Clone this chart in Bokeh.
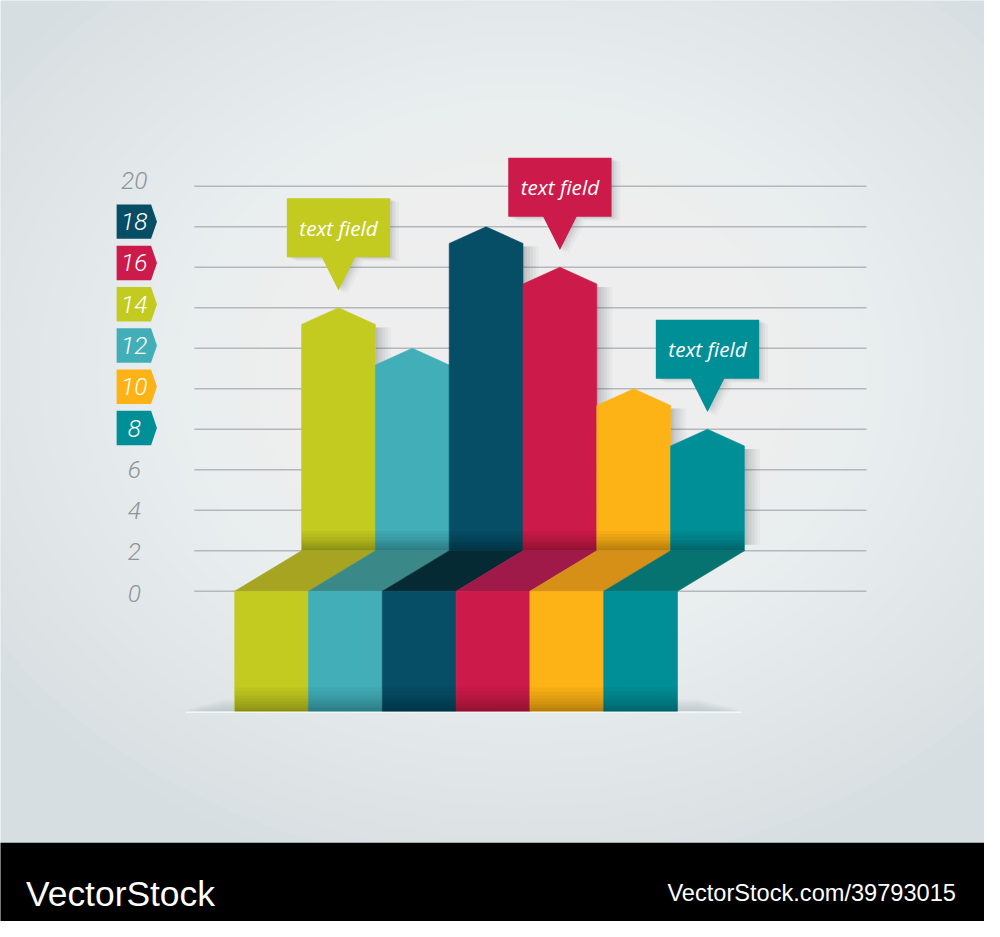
from bokeh.plotting import figure
from bokeh.models import Range1d, ColumnDataSource
from bokeh.embed import file_html
from bokeh.resources import INLINE
from bokeh.core.properties import value

# ---------------- data ----------------
categories = ["A", "B", "C", "D", "E", "F"]
values = [14, 12, 18, 16, 10, 8]
bar_colors = ["#c3cb21", "#42aeb8", "#064d66", "#cc1a4a", "#fdb315", "#008e97"]
fold_colors = ["#a6a421", "#3a8988", "#062a34", "#9f1a48", "#d68f17", "#067370"]
tick_values = [0, 2, 4, 6, 8, 10, 12, 14, 16, 18, 20]
tag_values = [18, 16, 14, 12, 10, 8]
tag_colors = ["#064d66", "#cc1a4a", "#c3cb21", "#42aeb8", "#fdb315", "#008e97"]
callout_bars = [0, 3, 5]
callout_texts = ["text field", "text field", "text field"]
brand_text = "VectorStock"
brand_url = "VectorStock.com/39793015"

# ---------------- layout constants ----------------
W, H = 984, 921
S = W / 1000.0       # screen scale of the figure relative to the reference
PX = 20.6            # reference pixels per value unit
ZERO = 601           # reference pixel row of value 0
BACK_X0 = 306        # left edge of first back bar (ref px)
BAR_W = 75
FRONT_DX = -68
BACK_BASE = 2.0
FRONT_BOTTOM = (ZERO - 723) / PX
PEAK_DROP = 17 / PX
TIP_GAP = 17.5 / PX


def u(px):
    return px / PX


def yv(pixel_row):
    return (ZERO - pixel_row) / PX


def fs(px):
    return f"{px * S:.1f}px"


p = figure(width=W, height=H, output_backend="svg", toolbar_location=None,
           x_range=Range1d(0, 1000), y_range=Range1d(yv(937), yv(0)),
           x_axis_location=None, y_axis_location=None, min_border=0)
p.grid.visible = False
p.outline_line_color = None
p.background_fill_color = "#d6dee1"
p.border_fill_color = "#d6dee1"

# ---------------- background glow ----------------
n_glow = 30
gw = [(1300 - k * 40) * S for k in range(n_glow)]
gh = [w * 0.80 for w in gw]
p.ellipse(x=[530] * n_glow, y=[yv(380)] * n_glow, width=gw, height=gh,
          width_units="screen", height_units="screen",
          fill_color="white", fill_alpha=0.055, line_color=None)

# ---------------- gridlines ----------------
p.segment(x0=[197] * len(tick_values), y0=tick_values,
          x1=[880] * len(tick_values), y1=tick_values,
          line_color="#b4b8bb", line_width=1.5)

# ---------------- floor shadow ----------------
n = len(values)
front_left = BACK_X0 + FRONT_DX
front_right = front_left + n * BAR_W
for k, hpx in enumerate([12, 10, 8, 6, 4, 2]):
    xs = [front_left - 55 + k * 5, front_right + 68 - k * 5,
          front_right + 20, front_left - 10]
    ys = [FRONT_BOTTOM, FRONT_BOTTOM, FRONT_BOTTOM + u(hpx), FRONT_BOTTOM + u(hpx)]
    p.patch(xs, ys, fill_color="#7d868d", fill_alpha=0.05, line_color=None)
p.segment(x0=[front_left - 50], y0=[FRONT_BOTTOM - u(1)], x1=[front_right + 65],
          y1=[FRONT_BOTTOM - u(1)], line_color="#f4f6f7", line_width=1.5)


def bar_shape(i, v):
    x0 = BACK_X0 + i * BAR_W
    x1 = x0 + BAR_W
    xm = (x0 + x1) / 2
    return ([x0, x0, xm, x1, x1], [BACK_BASE, v - PEAK_DROP, v, v - PEAK_DROP, BACK_BASE])


# ---------------- back bar shadows (to the right of each bar) ----------------
for wpx, a in [(16, 0.04), (13, 0.04), (10, 0.05), (7, 0.06), (4, 0.07), (2, 0.06)]:
    p.quad(left=[BACK_X0 + (i + 1) * BAR_W for i in range(n)],
           right=[BACK_X0 + (i + 1) * BAR_W + wpx for i in range(n)],
           top=[v - PEAK_DROP - u(3) for v in values],
           bottom=[BACK_BASE + u(6)] * n,
           fill_color="#3c4348", fill_alpha=a, line_color=None)

# ---------------- back bars ----------------
bx, by = [], []
for i, v in enumerate(values):
    xs, ys = bar_shape(i, v)
    bx.append(xs)
    by.append(ys)
p.patches(bx, by, fill_color=bar_colors, line_color=bar_colors, line_width=0.6)

# darker band at the foot of the back bars
for hpx in [20, 17, 14, 11, 9, 7, 5, 3, 1.5]:
    p.quad(left=BACK_X0, right=BACK_X0 + n * BAR_W, bottom=BACK_BASE,
           top=BACK_BASE + u(hpx), fill_color="black", fill_alpha=0.035, line_color=None)

# ---------------- folds ----------------
fx, fy = [], []
for i in range(n):
    f0 = front_left + i * BAR_W
    b0 = BACK_X0 + i * BAR_W
    fx.append([f0, f0 + BAR_W, b0 + BAR_W, b0])
    fy.append([0, 0, BACK_BASE, BACK_BASE])
p.patches(fx, fy, fill_color=fold_colors, line_color=fold_colors, line_width=0.6)

# ---------------- front bars ----------------
src = ColumnDataSource(dict(
    left=[front_left + i * BAR_W for i in range(n)],
    right=[front_left + (i + 1) * BAR_W for i in range(n)],
    color=bar_colors))
p.quad(left="left", right="right", top=0, bottom=FRONT_BOTTOM, source=src,
       fill_color="color", line_color="color", line_width=0.6)
for hpx in [24, 20, 16, 13, 10, 7, 5, 3, 1.5]:
    p.quad(left=front_left, right=front_right, bottom=FRONT_BOTTOM,
           top=FRONT_BOTTOM + u(hpx), fill_color="black", fill_alpha=0.035, line_color=None)

# ---------------- callouts ----------------
CW, CH, PH, PW = 105, 60, 34, 17


def callout_shape(b, dx=0.0, dy=0.0):
    cx = BACK_X0 + b * BAR_W + BAR_W / 2 + dx
    tip = values[b] + TIP_GAP - u(dy)
    bot = tip + u(PH)
    top = bot + u(CH)
    xs = [cx - CW / 2, cx + CW / 2, cx + CW / 2, cx + PW, cx, cx - PW, cx - CW / 2]
    ys = [top, top, bot, bot, tip, bot, bot]
    return xs, ys, cx, (top + bot) / 2


for dx, dy, a in [(2, 1, 0.07), (4, 2, 0.06), (6, 3, 0.05), (9, 4, 0.04)]:
    sx, sy = [], []
    for b in callout_bars:
        xs, ys, _, _ = callout_shape(b, dx, dy)
        sx.append(xs)
        sy.append(ys)
    p.patches(sx, sy, fill_color="#3c4348", fill_alpha=a, line_color=None)

cxs, cys, tx, ty, ccol = [], [], [], [], []
for b in callout_bars:
    xs, ys, cx, cy = callout_shape(b)
    cxs.append(xs)
    cys.append(ys)
    tx.append(cx)
    ty.append(cy)
    ccol.append(bar_colors[b])
p.patches(cxs, cys, fill_color=ccol, line_color=None)
p.text(x=tx, y=ty, text=callout_texts, text_align="center", text_baseline="middle",
       text_color="white", text_font=value("Open Sans"), text_font_style="italic",
       text_font_size=fs(21))

# ---------------- tick labels ----------------
LABEL_X = 136
label_y = [v * 21.0 / PX - u(2) for v in tick_values]
plain_vals = [v for v in tick_values if v not in tag_values]
plain_y = [label_y[tick_values.index(v)] for v in plain_vals]
p.text(x=[LABEL_X] * len(plain_vals), y=plain_y, text=[str(v) for v in plain_vals],
       text_align="center", text_baseline="middle", text_color="#909496",
       text_font=value("Roboto Light"), text_font_style="italic", text_font_size=fs(25))

tgx, tgy, tty = [], [], []
for v in tag_values:
    yc = label_y[tick_values.index(v)]
    hh = u(17.5)
    tgx.append([118, 153, 159, 153, 118])
    tgy.append([yc + hh, yc + hh, yc, yc - hh, yc - hh])
    tty.append(yc)
p.patches(tgx, tgy, fill_color=tag_colors, line_color=None)
p.text(x=[LABEL_X] * len(tag_values), y=tty, text=[str(v) for v in tag_values],
       text_align="center", text_baseline="middle", text_color="white",
       text_font=value("Roboto Light"), text_font_style="italic", text_font_size=fs(25))

# ---------------- watermark band ----------------
p.quad(left=-10, right=1010, top=yv(857), bottom=yv(950), fill_color="black", line_color=None)
p.text(x=[26], y=[yv(909)], text=[brand_text], text_align="left", text_baseline="alphabetic",
       text_color="white", text_font=value("Liberation Sans"), text_font_size=fs(36))
p.text(x=[971], y=[yv(908)], text=[brand_url], text_align="right", text_baseline="alphabetic",
       text_color="white", text_font=value("Liberation Sans"), text_font_size=fs(24))

open("out.html", "w").write(file_html(p, INLINE))
